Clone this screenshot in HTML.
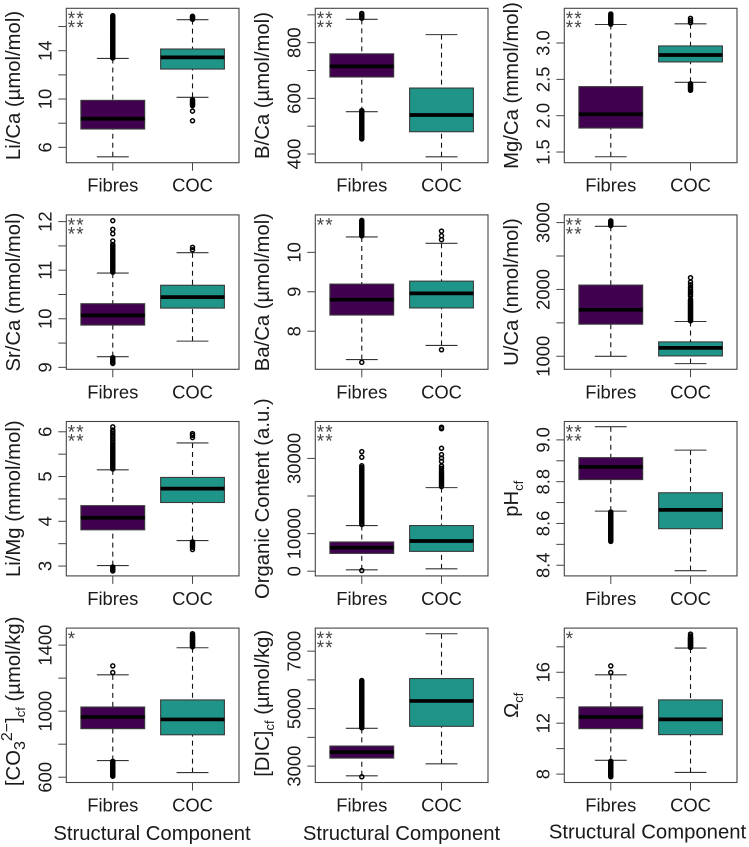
<!DOCTYPE html>
<html lang="en">
<head>
<meta charset="utf-8">
<title>Boxplots of geochemical proxies by structural component</title>
<style>
html,body{margin:0;padding:0;background:#fff;width:749px;height:847px;overflow:hidden}
svg{display:block;font-family:"Liberation Sans",Arial,sans-serif}
</style>
</head>
<body>
<svg id="chart" xmlns="http://www.w3.org/2000/svg" width="749" height="847" viewBox="0 0 749 847"></svg>
<script>
const categories = ['Fibres', 'COC'];
const xAxisTitle = 'Structural Component';

// Each box: [lower whisker, Q1, median, Q3, upper whisker]
const liCaDomain = [4.73, 17.51];
const liCaTicks = [6, 8, 10, 12, 14, 16];
const liCaTickLabels = ['6', '', '10', '', '14', ''];
const liCaFibres = [5.22, 7.52, 8.37, 9.89, 13.36];
const liCaCoc = [10.14, 12.48, 13.45, 14.14, 16.57];
const liCaFibresOut = [13.4, 13.5, 13.6, 13.7, 13.8, 13.9, 14, 14.1, 14.2, 14.3, 14.4, 14.5, 14.6, 14.7, 14.8, 14.9, 15, 15.1, 15.2, 15.3, 15.4, 15.5, 15.6, 15.7, 15.8, 15.9, 16, 16.1, 16.2, 16.3, 16.4, 16.5, 16.6, 16.7, 16.8, 16.9];
const liCaCocOut = [16.6, 16.7, 16.8, 16.85, 9.95, 9.85, 9.75, 9.65, 9.55, 9.45, 9.0, 8.2];

const bCaDomain = [368.7, 923.6];
const bCaTicks = [400, 500, 600, 700, 800, 900];
const bCaTickLabels = ['400', '', '600', '', '800', ''];
const bCaFibres = [552, 676.7, 715, 760, 884];
const bCaCoc = [390, 480, 540, 637, 829];
const bCaFibresOut = [888, 894, 900, 905, 556, 551, 546, 541, 536, 531, 526, 521, 516, 511, 506, 501, 496, 491, 486, 481, 476, 471, 466, 461, 456, 454];
const bCaCocOut = [];

const mgCaDomain = [1.353, 3.478];
const mgCaTicks = [1.5, 2, 2.5, 3];
const mgCaTickLabels = ['1.5', '2.0', '2.5', '3.0'];
const mgCaFibres = [1.435, 1.83, 2.02, 2.4, 3.255];
const mgCaCoc = [2.46, 2.74, 2.835, 2.96, 3.265];
const mgCaFibresOut = [3.26, 3.275, 3.29, 3.305, 3.32, 3.335, 3.35, 3.365, 3.38, 3.4];
const mgCaCocOut = [3.28, 3.31, 3.34, 2.44, 2.425, 2.41, 2.395, 2.38, 2.365, 2.35];

const srCaDomain = [8.96, 12.138];
const srCaTicks = [9, 9.5, 10, 10.5, 11, 11.5, 12];
const srCaTickLabels = ['9', '', '10', '', '11', '', '12'];
const srCaFibres = [9.22, 9.87, 10.07, 10.31, 10.94];
const srCaCoc = [9.54, 10.22, 10.445, 10.69, 11.36];
const srCaFibresOut = [10.96, 10.99, 11.02, 11.05, 11.08, 11.11, 11.14, 11.17, 11.2, 11.23, 11.26, 11.29, 11.32, 11.35, 11.38, 11.41, 11.44, 11.47, 11.5, 11.53, 11.6, 11.75, 11.84, 12.02, 9.2, 9.17, 9.14, 9.11, 9.09, 9.08];
const srCaCocOut = [11.42, 11.47];

const baCaDomain = [7.034, 10.95];
const baCaTicks = [8, 9, 10];
const baCaTickLabels = ['8', '9', '10'];
const baCaFibres = [7.28, 8.41, 8.8, 9.195, 10.39];
const baCaCoc = [7.64, 8.59, 8.96, 9.27, 10.23];
const baCaFibresOut = [10.42, 10.45, 10.48, 10.51, 10.54, 10.57, 10.6, 10.63, 10.66, 10.69, 10.72, 10.75, 10.78, 10.81, 7.21];
const baCaCocOut = [10.32, 10.42, 10.54, 7.53];

const uCaDomain = [805, 3115];
const uCaTicks = [1000, 1500, 2000, 2500, 3000];
const uCaTickLabels = ['1000', '', '2000', '', '3000'];
const uCaFibres = [1000, 1480, 1695, 2065, 2945];
const uCaCoc = [890, 1005, 1125, 1215, 1520];
const uCaFibresOut = [2955, 2965, 2975, 2985, 2995, 3005, 3015, 3025];
const uCaCocOut = [1530, 1545, 1560, 1575, 1590, 1605, 1620, 1635, 1650, 1665, 1680, 1695, 1710, 1725, 1740, 1755, 1770, 1785, 1800, 1815, 1830, 1850, 1900, 1925, 1950, 1975, 2000, 2030, 2070, 2110, 2175];

const liMgDomain = [2.78, 6.23];
const liMgTicks = [3, 3.5, 4, 4.5, 5, 5.5, 6];
const liMgTickLabels = ['3', '', '4', '', '5', '', '6'];
const liMgFibres = [3.01, 3.81, 4.08, 4.35, 5.15];
const liMgCoc = [3.57, 4.42, 4.73, 4.98, 5.75];
const liMgFibresOut = [5.17, 5.2, 5.23, 5.26, 5.29, 5.32, 5.35, 5.38, 5.41, 5.44, 5.47, 5.5, 5.53, 5.56, 5.59, 5.62, 5.65, 5.68, 5.72, 5.76, 5.8, 5.84, 5.88, 5.92, 5.96, 6.0, 6.04, 6.11, 2.98, 2.95, 2.92, 2.89];
const liMgCocOut = [5.87, 5.92, 5.96, 3.54, 3.51, 3.48, 3.45, 3.42, 3.37];

const organicDomain = [-1250, 39821];
const organicTicks = [0, 10000, 20000, 30000];
const organicTickLabels = ['0', '10000', '', '30000'];
const organicFibres = [357, 4730, 6250, 7770, 12140];
const organicCoc = [625, 5270, 8035, 12140, 22230];
const organicFibresOut = [12400, 12800, 13200, 13600, 14000, 14400, 14800, 15200, 15600, 16000, 16400, 16800, 17200, 17600, 18000, 18400, 18800, 19200, 19600, 20000, 20400, 20800, 21200, 21600, 22000, 22400, 22800, 23200, 23600, 24000, 24400, 24800, 25200, 25600, 26000, 26400, 26800, 27200, 27600, 28035, 30300, 31800, 180];
const organicCocOut = [22500, 22900, 23300, 23700, 24100, 24500, 24900, 25300, 25700, 26100, 26700, 27400, 28000, 29200, 30100, 31000, 32700, 37900, 38300];

const phDomain = [8.349, 9.088];
const phTicks = [8.4, 8.5, 8.6, 8.7, 8.8, 8.9, 9];
const phTickLabels = ['8.4', '', '8.6', '', '8.8', '', '9.0'];
const phFibres = [8.659, 8.81, 8.871, 8.915, 9.063];
const phCoc = [8.374, 8.575, 8.665, 8.747, 8.951];
const phFibresOut = [8.655, 8.65, 8.645, 8.64, 8.635, 8.63, 8.625, 8.62, 8.615, 8.61, 8.605, 8.6, 8.595, 8.59, 8.585, 8.58, 8.575, 8.57, 8.565, 8.56, 8.555, 8.55, 8.545, 8.54, 8.535, 8.53, 8.525, 8.52, 8.514];
const phCocOut = [];

const co3Domain = [568, 1503];
const co3Ticks = [600, 800, 1000, 1200, 1400];
const co3TickLabels = ['600', '', '1000', '', '1400'];
const co3Fibres = [701, 894, 965, 1025, 1220];
const co3Coc = [628, 857, 950, 1068, 1384];
const co3FibresOut = [1234, 1274, 696, 691, 686, 681, 676, 671, 666, 661, 656, 651, 646, 641, 636, 631, 626, 621, 616, 611, 606];
const co3CocOut = [1390, 1395, 1400, 1405, 1410, 1415, 1420, 1425, 1430, 1435, 1440, 1445, 1450, 1455, 1460, 1469];

const dicDomain = [2430, 7802];
const dicTicks = [3000, 4000, 5000, 6000, 7000];
const dicTickLabels = ['3000', '', '5000', '', '7000'];
const dicFibres = [2663, 3279, 3488, 3698, 4314];
const dicCoc = [3081, 4384, 5267, 6047, 7605];
const dicFibresOut = [4335, 4375, 4415, 4455, 4495, 4535, 4575, 4615, 4655, 4695, 4735, 4775, 4815, 4855, 4895, 4935, 4975, 5015, 5055, 5095, 5135, 5175, 5215, 5255, 5295, 5335, 5375, 5415, 5455, 5495, 5535, 5575, 5615, 5655, 5695, 5735, 5775, 5815, 5855, 5895, 5935, 5977, 2628];
const dicCocOut = [];

const omegaDomain = [7.34, 19.47];
const omegaTicks = [8, 10, 12, 14, 16, 18];
const omegaTickLabels = ['8', '', '12', '', '16', ''];
const omegaFibres = [9.08, 11.57, 12.49, 13.28, 15.8];
const omegaCoc = [8.13, 11.1, 12.3, 13.83, 17.9];
const omegaFibresOut = [15.98, 16.5, 9.0, 8.95, 8.9, 8.85, 8.8, 8.75, 8.7, 8.65, 8.6, 8.55, 8.5, 8.45, 8.4, 8.35, 8.3, 8.25, 8.2, 8.15, 8.1, 8.05, 8.0, 7.95, 7.9, 7.85, 7.79];
const omegaCocOut = [17.95, 18.0, 18.05, 18.1, 18.15, 18.2, 18.25, 18.3, 18.35, 18.4, 18.45, 18.5, 18.55, 18.6, 18.65, 18.7, 18.75, 18.85, 19.0];

const panels = [
  {id:'li-ca', stars:2, shift:0, domain:liCaDomain, ticks:liCaTicks, labels:liCaTickLabels, boxes:[liCaFibres, liCaCoc], outliers:[liCaFibresOut, liCaCocOut], title:[['Li/Ca (µmol/mol)']]},
  {id:'b-ca', stars:2, shift:0, domain:bCaDomain, ticks:bCaTicks, labels:bCaTickLabels, boxes:[bCaFibres, bCaCoc], outliers:[bCaFibresOut, bCaCocOut], title:[['B/Ca (µmol/mol)']]},
  {id:'mg-ca', stars:2, shift:0, domain:mgCaDomain, ticks:mgCaTicks, labels:mgCaTickLabels, boxes:[mgCaFibres, mgCaCoc], outliers:[mgCaFibresOut, mgCaCocOut], title:[['Mg/Ca (mmol/mol)']]},
  {id:'sr-ca', stars:2, shift:0, domain:srCaDomain, ticks:srCaTicks, labels:srCaTickLabels, boxes:[srCaFibres, srCaCoc], outliers:[srCaFibresOut, srCaCocOut], title:[['Sr/Ca (mmol/mol)']]},
  {id:'ba-ca', stars:1, shift:0, domain:baCaDomain, ticks:baCaTicks, labels:baCaTickLabels, boxes:[baCaFibres, baCaCoc], outliers:[baCaFibresOut, baCaCocOut], title:[['Ba/Ca (µmol/mol)']]},
  {id:'u-ca', stars:2, shift:0, domain:uCaDomain, ticks:uCaTicks, labels:uCaTickLabels, boxes:[uCaFibres, uCaCoc], outliers:[uCaFibresOut, uCaCocOut], title:[['U/Ca (nmol/mol)']]},
  {id:'li-mg', stars:2, shift:0, domain:liMgDomain, ticks:liMgTicks, labels:liMgTickLabels, boxes:[liMgFibres, liMgCoc], outliers:[liMgFibresOut, liMgCocOut], title:[['Li/Mg (mmol/mol)']]},
  {id:'organic-content', stars:2, shift:0, domain:organicDomain, ticks:organicTicks, labels:organicTickLabels, boxes:[organicFibres, organicCoc], outliers:[organicFibresOut, organicCocOut], title:[['Organic Content (a.u.)']]},
  {id:'ph-cf', stars:2, shift:0, domain:phDomain, ticks:phTicks, labels:phTickLabels, boxes:[phFibres, phCoc], outliers:[phFibresOut, phCocOut], title:[['pH'], ['cf', 13, 5]]},
  {id:'co3-cf', stars:0, shift:-4, domain:co3Domain, ticks:co3Ticks, labels:co3TickLabels, boxes:[co3Fibres, co3Coc], outliers:[co3FibresOut, co3CocOut], title:[['[CO'], ['3', 16, 5], ['2−', 16, -13], [']', 20.3, 8], ['cf', 13, 5], [' (µmol/kg)', 20.3, -5]]},
  {id:'dic-cf', stars:2, shift:-2, domain:dicDomain, ticks:dicTicks, labels:dicTickLabels, boxes:[dicFibres, dicCoc], outliers:[dicFibresOut, dicCocOut], title:[['[DIC]'], ['cf', 13, 5], [' (µmol/kg)', 20.3, -5]]},
  {id:'omega-cf', stars:0, shift:0, domain:omegaDomain, ticks:omegaTicks, labels:omegaTickLabels, boxes:[omegaFibres, omegaCoc], outliers:[omegaFibresOut, omegaCocOut], title:[['Ω'], ['cf', 13, 5]]}
];

const NS = 'http://www.w3.org/2000/svg';
const svg = document.getElementById('chart');
const PLOT_W = 172.7, PLOT_H = 154.4;
const X_DOMAIN = [0.417, 2.583];
const FILLS = ['#41004f', '#1f9488'];
const INK = '#1a1a1a';
const xTitleCenters = [152, 401.5, 647.5];
const xTitleBaselines = [840, 840, 838.5];

function mk(tag, attrs, parent) {
  const el = document.createElementNS(NS, tag);
  for (const k in attrs) el.setAttribute(k, attrs[k]);
  parent.appendChild(el);
  return el;
}
function xScale(v, left) {
  return left + PLOT_W * (v - X_DOMAIN[0]) / (X_DOMAIN[1] - X_DOMAIN[0]);
}
function yScale(v, domain, top) {
  return top + PLOT_H * (1 - (v - domain[0]) / (domain[1] - domain[0]));
}

const bg = mk('rect', {x:0, y:0, width:749, height:847, fill:'#fff'}, svg);



panels.forEach(function (p, i) {
  const col = i % 3, row = Math.floor(i / 3);
  const left = 66.3 + col * 249;
  const top = 8.3 + row * 206.6;
  const bottom = top + PLOT_H;

  const g = mk('g', {}, svg);
  
  

  // y axis ticks and labels
  p.ticks.forEach(function (t, k) {
    const y = yScale(t, p.domain, top);
    const tick = mk('line', {x1:left - 8, x2:left, y1:y, y2:y, stroke:'#444', 'stroke-width':1}, g);
    
    
    if (p.labels[k]) {
      const bx = left - 15;
      const lab = mk('text', {x:bx, y:y, transform:'rotate(-90 ' + bx + ' ' + y + ')', 'text-anchor':'middle', 'font-size':18.4, fill:INK}, g);
      lab.textContent = p.labels[k];
      
      
    }
  });

  // y axis title
  const tx = left - 46.3, ty = top + PLOT_H / 2 + p.shift;
  const title = mk('text', {x:tx, y:ty, transform:'rotate(-90 ' + tx + ' ' + ty + ')', 'text-anchor':'middle', 'font-size':20.3, fill:INK}, g);
  
  
  p.title.forEach(function (run) {
    const ts = mk('tspan', {'font-size':run[1] || 20.3, dy:run[2] || 0}, title);
    ts.textContent = run[0];
  });

  // series
  categories.forEach(function (cat, c) {
    const name = p.id + '-' + cat.toLowerCase();
    const b = p.boxes[c];
    const cx = xScale(c + 1, left);
    const halfBox = xScale(c + 1.4, left) - cx;
    const halfCap = xScale(c + 1.2, left) - cx;
    const yv = b.map(function (v) { return yScale(v, p.domain, top); });

    const wl = mk('line', {x1:cx, x2:cx, y1:yv[0], y2:yv[1], stroke:'#111', 'stroke-width':1.1, 'stroke-dasharray':'5 4'}, g);
    
    
    const wh = mk('line', {x1:cx, x2:cx, y1:yv[4], y2:yv[3], stroke:'#111', 'stroke-width':1.1, 'stroke-dasharray':'5 4'}, g);
    
    
    const cl = mk('line', {x1:cx - halfCap, x2:cx + halfCap, y1:yv[0], y2:yv[0], stroke:'#333', 'stroke-width':1.1}, g);
    
    
    const ch = mk('line', {x1:cx - halfCap, x2:cx + halfCap, y1:yv[4], y2:yv[4], stroke:'#333', 'stroke-width':1.1}, g);
    
    

    p.outliers[c].forEach(function (v) {
      const o = mk('circle', {cx:cx, cy:yScale(v, p.domain, top), r:2, fill:'none', stroke:'#000', 'stroke-width':1.5}, g);
      
      
    });

    const box = mk('rect', {x:cx - halfBox, y:yv[3], width:2 * halfBox, height:yv[1] - yv[3], fill:FILLS[c], stroke:'#3a3a3a', 'stroke-width':1.1}, g);
    
    
    const med = mk('line', {x1:cx - halfBox, x2:cx + halfBox, y1:yv[2], y2:yv[2], stroke:'#000', 'stroke-width':3.7}, g);
    
    

    const xt = mk('line', {x1:cx, x2:cx, y1:bottom, y2:bottom + 8, stroke:'#444', 'stroke-width':1}, g);
    
    
    const xl = mk('text', {x:cx, y:bottom + 29, 'text-anchor':'middle', 'font-size':18.4, fill:INK}, g);
    xl.textContent = cat;
    
    
  });

  // plot frame
  const frame = mk('rect', {x:left, y:top, width:PLOT_W, height:PLOT_H, fill:'none', stroke:'#444', 'stroke-width':1.1}, g);
  
  

  // significance markers
  const lines = p.stars === 2 ? ['**', '**'] : p.stars === 1 ? ['**'] : ['*'];
  lines.forEach(function (s, k) {
    const st = mk('text', {x:left + 1.5, y:top + 16.8 + k * 9, 'font-size':19, 'letter-spacing':1, fill:'#444'}, g);
    st.textContent = s;
    
    
  });

  // x axis title on the bottom row
  if (row === 3) {
    const xa = mk('text', {x:xTitleCenters[col], y:xTitleBaselines[col], 'text-anchor':'middle', 'font-size':20.3, fill:INK}, g);
    xa.textContent = xAxisTitle;
    
    
  }
});
</script>
</body>
</html>
